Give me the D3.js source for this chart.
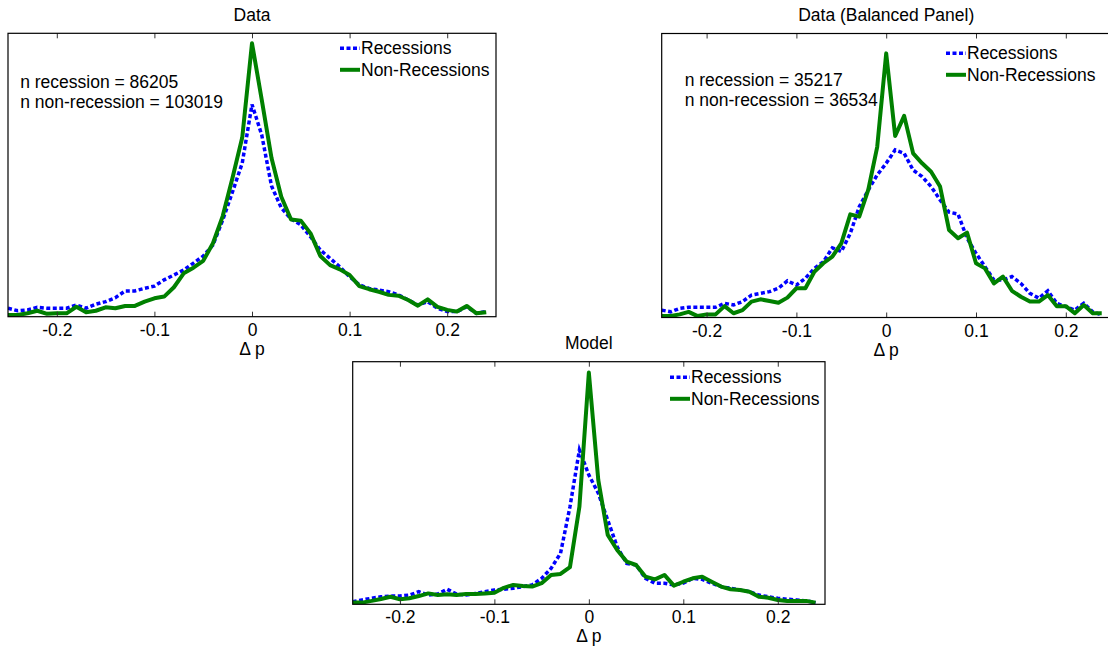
<!DOCTYPE html>
<html lang="en">
<head>
  <meta charset="UTF-8">
  <title>Price change distributions – recessions vs. non-recessions</title>
  <script src="https://d3js.org/d3.v7.min.js"></script>
  <style>
    body { margin: 0; background: #fff; }
    svg { display: block; font-family: "Liberation Sans", Arial, sans-serif; font-size: 17.5px; }
    .frame { fill: none; stroke: #000; stroke-width: 1.2; }
    .tick line { stroke: #333; }
    .rec { fill: none; stroke: #0000ff; stroke-width: 3.5; stroke-dasharray: 4 2.5; }
    .nonrec { fill: none; stroke: #008000; stroke-width: 4; stroke-linejoin: round; }
  </style>
</head>
<body>
  <svg width="1108" height="648"></svg>

  <script>
    // bin centres of the price change distribution (Δp)
    const bins = [
      -0.25, -0.24, -0.23, -0.22, -0.21, -0.20, -0.19, -0.18, -0.17, -0.16,
      -0.15, -0.14, -0.13, -0.12, -0.11, -0.10, -0.09, -0.08, -0.07, -0.06,
      -0.05, -0.04, -0.03, -0.02, -0.01, 0.00, 0.01, 0.02, 0.03, 0.04,
      0.05, 0.06, 0.07, 0.08, 0.09, 0.10, 0.11, 0.12, 0.13, 0.14,
      0.15, 0.16, 0.17, 0.18, 0.19, 0.20, 0.21, 0.22, 0.23, 0.24
    ];
    const xTicks = [-0.2, -0.1, 0, 0.1, 0.2];
    const seriesNames = ["Recessions", "Non-Recessions"];

    // normalised densities
    const dataRec = [
      0.030, 0.021, 0.024, 0.033, 0.030, 0.030, 0.030, 0.041, 0.030, 0.044,
      0.053, 0.067, 0.091, 0.091, 0.100, 0.108, 0.130, 0.147, 0.165, 0.189,
      0.214, 0.253, 0.341, 0.440, 0.542, 0.749, 0.641, 0.461, 0.384, 0.345,
      0.324, 0.282, 0.235, 0.206, 0.176, 0.141, 0.112, 0.100, 0.094, 0.088,
      0.077, 0.059, 0.041, 0.053, 0.030, 0.018, 0.018, 0.035, 0.012, 0.018
    ];
    const dataNonRec = [
      0.006, 0.006, 0.012, 0.021, 0.010, 0.012, 0.012, 0.035, 0.016, 0.021,
      0.033, 0.030, 0.038, 0.038, 0.053, 0.065, 0.071, 0.104, 0.153, 0.173,
      0.197, 0.259, 0.355, 0.489, 0.632, 0.965, 0.765, 0.560, 0.423, 0.343,
      0.339, 0.294, 0.214, 0.182, 0.167, 0.147, 0.108, 0.097, 0.088, 0.077,
      0.074, 0.059, 0.039, 0.061, 0.035, 0.024, 0.018, 0.038, 0.012, 0.016
    ];
    const balancedRec = [
      0.026, 0.020, 0.032, 0.036, 0.036, 0.036, 0.036, 0.050, 0.044, 0.056,
      0.079, 0.085, 0.091, 0.103, 0.129, 0.114, 0.138, 0.173, 0.196, 0.245,
      0.232, 0.296, 0.390, 0.449, 0.502, 0.543, 0.590, 0.578, 0.519, 0.496,
      0.461, 0.414, 0.371, 0.364, 0.280, 0.226, 0.179, 0.132, 0.132, 0.144,
      0.120, 0.085, 0.068, 0.094, 0.050, 0.038, 0.026, 0.050, 0.020, 0.009
    ];
    const balancedNonRec = [
      0.005, 0.005, 0.011, 0.020, 0.005, 0.011, 0.011, 0.040, 0.015, 0.026,
      0.056, 0.064, 0.058, 0.052, 0.070, 0.103, 0.103, 0.161, 0.191, 0.214,
      0.261, 0.363, 0.355, 0.449, 0.601, 0.930, 0.639, 0.710, 0.578, 0.543,
      0.513, 0.461, 0.308, 0.279, 0.299, 0.191, 0.173, 0.120, 0.144, 0.094,
      0.073, 0.056, 0.056, 0.079, 0.040, 0.040, 0.015, 0.044, 0.015, 0.015
    ];
    const modelRec = [
      0.011, 0.018, 0.025, 0.031, 0.034, 0.034, 0.038, 0.052, 0.038, 0.042,
      0.062, 0.042, 0.038, 0.045, 0.052, 0.059, 0.062, 0.066, 0.073, 0.080,
      0.107, 0.148, 0.210, 0.402, 0.636, 0.533, 0.458, 0.347, 0.237, 0.169,
      0.162, 0.107, 0.087, 0.087, 0.080, 0.087, 0.107, 0.103, 0.087, 0.073,
      0.066, 0.059, 0.052, 0.038, 0.031, 0.025, 0.021, 0.018, 0.014, 0.007
    ];
    const modelNonRec = [
      0.007, 0.007, 0.014, 0.022, 0.031, 0.021, 0.025, 0.034, 0.045, 0.038,
      0.041, 0.038, 0.042, 0.042, 0.045, 0.048, 0.068, 0.080, 0.075, 0.073,
      0.087, 0.121, 0.125, 0.153, 0.402, 0.955, 0.512, 0.286, 0.224, 0.176,
      0.162, 0.114, 0.103, 0.121, 0.077, 0.093, 0.107, 0.114, 0.093, 0.073,
      0.062, 0.059, 0.052, 0.031, 0.027, 0.018, 0.014, 0.014, 0.014, 0.007
    ];

    // layout of the three axes (pixels) + annotation/legend placement
    const panels = [
      { title: "Data", rec: dataRec, nonrec: dataNonRec,
        left: 8, top: 33.3, width: 488, height: 283.4,
        notes: ["n recession = 86205", "n non-recession = 103019"],
        noteX: -0.2375, noteY: [0.828, 0.759],
        legX: 332, legY: 15 },
      { title: "Data (Balanced Panel)", rec: balancedRec, nonrec: balancedNonRec,
        left: 661.7, top: 33.5, width: 449, height: 284,
        notes: ["n recession = 35217", "n non-recession = 36534"],
        noteX: -0.2244, noteY: [0.836, 0.768],
        legX: 284.3, legY: 19.8 },
      { title: "Model", rec: modelRec, nonrec: modelNonRec,
        left: 352.7, top: 361.7, width: 472.3, height: 242.6,
        notes: [], legX: 317.3, legY: 15.6 }
    ];

    const svg = d3.select("svg");

    panels.forEach((p, i) => {
      const g = svg.append("g").attr("transform", `translate(${p.left},${p.top})`);

      const x = d3.scaleLinear().domain([-0.25, 0.25]).range([0, p.width]);
      const y = d3.scaleLinear().domain([0, 1]).range([p.height, 0]);

      g.append("clipPath").attr("id", "clip" + i)
        .append("rect").attr("width", p.width).attr("height", p.height);

      const line = vals => d3.line()
        .x((d, j) => x(bins[j]))
        .y(d => y(d))(vals);

      const plot = g.append("g").attr("clip-path", `url(#clip${i})`);
      plot.append("path").attr("class", "rec").attr("d", line(p.rec));
      plot.append("path").attr("class", "nonrec").attr("d", line(p.nonrec));

      // ticks inside on top and bottom
      const bottom = g.append("g")
        .attr("transform", `translate(0,${p.height})`)
        .call(d3.axisBottom(x).tickValues(xTicks).tickSizeInner(-5).tickSizeOuter(0)
          .tickFormat(d => String(d)));
      bottom.attr("font-size", null).attr("font-family", null);
      bottom.select(".domain").remove();
      bottom.selectAll("text").attr("y", 19).attr("dy", null).attr("fill", "#000");

      const top = g.append("g")
        .call(d3.axisTop(x).tickValues(xTicks).tickSizeInner(-5).tickSizeOuter(0)
          .tickFormat(""));
      top.select(".domain").remove();

      g.append("rect").attr("class", "frame")
        .attr("width", p.width).attr("height", p.height);

      g.append("text")
        .attr("x", x(0)).attr("y", p.height + 38)
        .attr("text-anchor", "middle")
        .text("Δ p");

      g.append("text")
        .attr("x", x(0)).attr("y", -12.5)
        .attr("text-anchor", "middle")
        .text(p.title);

      p.notes.forEach((t, k) => {
        g.append("text")
          .attr("x", x(p.noteX)).attr("y", y(p.noteY[k]))
          .attr("dy", "0.35em")
          .text(t);
      });

      // legend
      const leg = g.append("g").attr("transform", `translate(${p.legX},${p.legY})`);
      seriesNames.forEach((name, k) => {
        const row = leg.append("g").attr("transform", `translate(0,${k * 21.5})`);
        row.append("line")
          .attr("class", k === 0 ? "rec" : "nonrec")
          .attr("x1", 0).attr("x2", 20).attr("y1", 0).attr("y2", 0);
        row.append("text").attr("x", 21).attr("dy", "0.35em").text(name);
      });
    });
  </script>
</body>
</html>
